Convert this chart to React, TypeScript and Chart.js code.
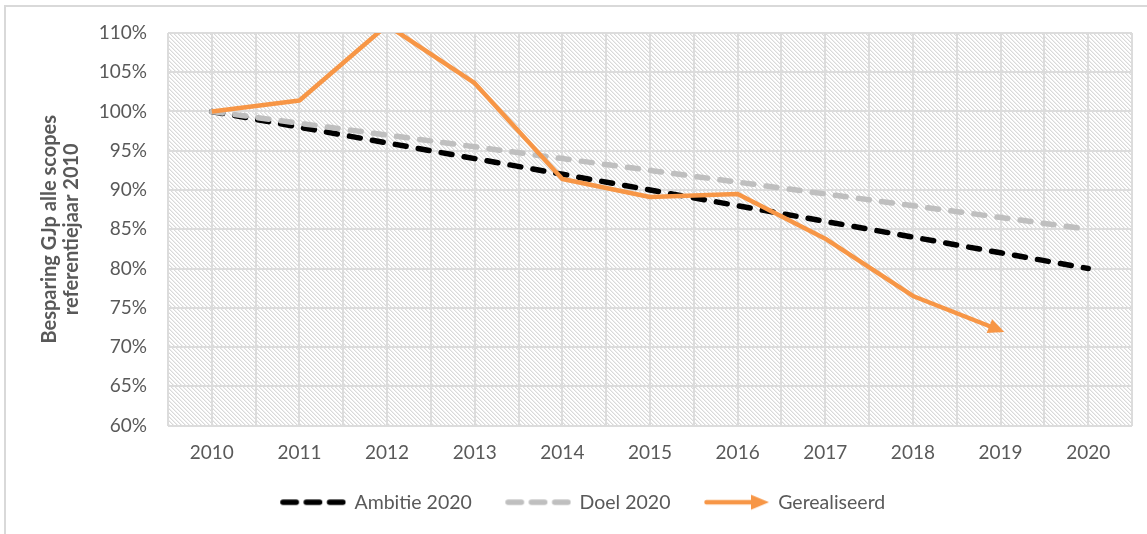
import React, { useEffect, useRef } from 'react';
import { Chart, registerables } from 'chart.js';

Chart.register(...registerables);

// ---------- data ----------
const years = ['2010', '2011', '2012', '2013', '2014', '2015', '2016', '2017', '2018', '2019', '2020'];
const ambitie = [100, 98, 96, 94, 92, 90, 88, 86, 84, 82, 80];
const doel = [100, 98.5, 97, 95.5, 94, 92.5, 91, 89.5, 88, 86.5, 85];
const gerealiseerd = [100, 101.4, 111, 103.6, 91.4, 89.1, 89.5, 83.8, 76.5, 72.1, null];
const seriesNames = ['Ambitie 2020', 'Doel 2020', 'Gerealiseerd'];
const yMin = 60;
const yMax = 110;
const yStep = 5;
const yTitle = ['Besparing GJp alle scopes', 'referentiejaar 2010'];

// ---------- styles ----------
const ORANGE = '#F79646';
const BLACK = '#000000';
const GREY = '#BFBFBF';
const TEXT = '#595959';
const GRID = '#dcdcdc';
const FONT = 'Lato';
const LEAD = 25;

function makeHatch(ctx: CanvasRenderingContext2D) {
  const t = document.createElement('canvas');
  t.width = 4;
  t.height = 4;
  const g = t.getContext('2d')!;
  g.fillStyle = '#ffffff';
  g.fillRect(0, 0, 4, 4);
  for (let y = 0; y < 4; y++) {
    g.fillStyle = '#d9d9d9';
    g.fillRect(y, y, 1, 1);
    g.fillStyle = '#eeeeee';
    g.fillRect((y + 1) % 4, y, 1, 1);
  }
  return ctx.createPattern(t, 'repeat');
}

function makeLegendImage(kind: 'dash' | 'arrow', color: string) {
  const c = document.createElement('canvas');
  c.width = LEAD + 66;
  c.height = 18;
  const g = c.getContext('2d')!;
  g.strokeStyle = color;
  g.fillStyle = color;
  if (kind === 'dash') {
    g.lineWidth = 5.5;
    g.lineCap = 'round';
    g.setLineDash([13.3, 10]);
    g.beginPath();
    g.moveTo(LEAD + 2.75, 9);
    g.lineTo(LEAD + 62.65, 9);
    g.stroke();
  } else {
    g.lineWidth = 4.5;
    g.lineCap = 'round';
    g.beginPath();
    g.moveTo(LEAD + 2.5, 9);
    g.lineTo(LEAD + 52, 9);
    g.stroke();
    g.beginPath();
    g.moveTo(LEAD + 65, 9);
    g.lineTo(LEAD + 47, 1.5);
    g.lineTo(LEAD + 47, 16.5);
    g.closePath();
    g.fill();
  }
  return c;
}

const hatchPlugin = {
  id: 'hatchBg',
  beforeDraw(chart: any) {
    const { ctx, chartArea } = chart;
    const p = makeHatch(ctx);
    if (!p) return;
    ctx.save();
    ctx.fillStyle = p;
    ctx.fillRect(chartArea.left, chartArea.top, chartArea.right - chartArea.left, chartArea.bottom - chartArea.top);
    ctx.restore();
  },
};

const arrowPlugin = {
  id: 'arrowHead',
  afterDatasetsDraw(chart: any) {
    const meta = chart.getDatasetMeta(2);
    const ds = chart.data.datasets[2].data as (number | null)[];
    let last = -1;
    for (let i = ds.length - 1; i >= 0; i--) {
      if (ds[i] !== null && ds[i] !== undefined) { last = i; break; }
    }
    if (last < 1) return;
    const p1 = meta.data[last - 1];
    const p2 = meta.data[last];
    const ang = Math.atan2(p2.y - p1.y, p2.x - p1.x);
    const ctx = chart.ctx;
    ctx.save();
    ctx.translate(p2.x, p2.y);
    ctx.rotate(ang);
    ctx.beginPath();
    ctx.moveTo(4, 0);
    ctx.lineTo(-12, -7.5);
    ctx.lineTo(-12, 7.5);
    ctx.closePath();
    ctx.fillStyle = ORANGE;
    ctx.fill();
    ctx.restore();
  },
};

export default function App() {
  const ref = useRef<HTMLCanvasElement | null>(null);

  useEffect(() => {
    if (!ref.current) return;
    const imgs = [makeLegendImage('dash', BLACK), makeLegendImage('dash', GREY), makeLegendImage('arrow', ORANGE)];
    const chart = new Chart(ref.current, {
      type: 'line',
      data: {
        labels: years,
        datasets: [
          {
            label: seriesNames[0],
            data: ambitie,
            borderColor: BLACK,
            borderWidth: 5.5,
            borderDash: [11, 12.3],
            borderCapStyle: 'round',
            pointRadius: 0,
            order: 3,
          },
          {
            label: seriesNames[1],
            data: doel,
            borderColor: GREY,
            borderWidth: 5.5,
            borderDash: [11, 12.3],
            borderCapStyle: 'round',
            pointRadius: 0,
            order: 2,
          },
          {
            label: seriesNames[2],
            data: gerealiseerd,
            borderColor: ORANGE,
            borderWidth: 4.5,
            borderCapStyle: 'butt',
            borderJoinStyle: 'round',
            pointRadius: 0,
            order: 1,
          },
        ],
      },
      options: {
        responsive: false,
        animation: false,
        events: [],
        layout: { padding: { left: 10, right: 15, top: 33, bottom: 12 } },
        font: { family: FONT },
        scales: {
          x: {
            type: 'category',
            offset: true,
            grid: { offset: false, color: GRID, lineWidth: 2, drawTicks: false },
            border: { display: false },
            ticks: { color: TEXT, font: { family: FONT, size: 19 }, padding: 16, maxRotation: 0, autoSkip: false },
            afterFit: (s: any) => { s.height = 57; },
          },
          x2: {
            type: 'category',
            labels: years,
            position: 'bottom',
            offset: true,
            grid: { offset: true, color: GRID, lineWidth: 2, drawTicks: false },
            border: { display: false },
            ticks: { display: false },
            afterFit: (s: any) => { s.height = 0; },
          },
          y: {
            min: yMin,
            max: yMax,
            grid: { color: GRID, lineWidth: 2, drawTicks: false },
            border: { display: false },
            ticks: {
              stepSize: yStep,
              color: TEXT,
              padding: 21,
              font: { family: FONT, size: 19 },
              callback: (v: any) => `${v}%`,
            },
            title: {
              display: true,
              text: yTitle,
              color: TEXT,
              font: { family: FONT, size: 20, weight: 'bold', lineHeight: 1.1 },
              padding: { top: 29, bottom: 0 },
            },
            afterFit: (s: any) => { s.width = 158; },
          },
        },
        plugins: {
          tooltip: { enabled: false },
          legend: {
            position: 'bottom',
            labels: {
              usePointStyle: true,
              pointStyleWidth: LEAD + 63,
              padding: 10,
              color: TEXT,
              font: { family: FONT, size: 19.5 },
              generateLabels: () =>
                seriesNames.map((n, i) => ({
                  text: n,
                  pointStyle: imgs[i],
                  fillStyle: 'rgba(0,0,0,0)',
                  strokeStyle: 'rgba(0,0,0,0)',
                  lineWidth: 0,
                  hidden: false,
                  datasetIndex: i,
                  fontColor: TEXT,
                })),
            },
          },
        },
      } as any,
      plugins: [hatchPlugin, arrowPlugin],
    });
    return () => chart.destroy();
  }, []);

  return (
    <div style={{ position: 'absolute', left: 0, top: 0, width: 1147, height: 534, background: '#ffffff', overflow: 'hidden' }}>
      <div
        style={{
          position: 'absolute',
          left: 4,
          top: 5,
          width: 1200,
          height: 600,
          borderLeft: '2px solid #d9d9d9',
          borderTop: '2px solid #d9d9d9',
        }}
      />
      <canvas ref={ref} width={1147} height={534} style={{ position: 'absolute', left: 0, top: 0, width: 1147, height: 534 }} />
    </div>
  );
}
